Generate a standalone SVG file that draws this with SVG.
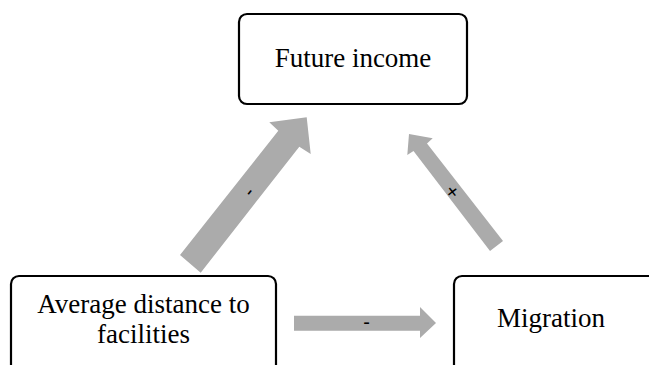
<svg xmlns="http://www.w3.org/2000/svg" width="649" height="365" viewBox="0 0 649 365">
<style>
.box{fill:#ffffff;stroke:#000000;stroke-width:2.2}
.lbl{font-family:"Liberation Serif","Times New Roman",serif;font-size:27px;fill:#000000;text-anchor:middle}
.arrow{fill:#ababab;stroke:none}
.sign{font-family:"Liberation Sans",Arial,sans-serif;font-size:20px;fill:#000000;text-anchor:middle}
</style>
<rect width="649" height="365" fill="#ffffff"/>
<g id="connectors">
<g id="edge-distance-income">
<polygon class="arrow" points="180,255 278.3,130.7 269.3,122.3 306.7,117.3 310.7,154 299.3,146.7 200.7,272.7"/>
<text class="sign" transform="translate(249,192) rotate(-51.6)" y="6">-</text>
</g>
<g id="edge-migration-income">
<polygon class="arrow" points="503,241 427,143.5 432.7,138.3 409,134 407.3,155 413.5,151 490,251"/>
<text class="sign" transform="translate(452.7,191.7) rotate(52.5)" y="7">+</text>
</g>
<g id="edge-distance-migration">
<polygon class="arrow" points="294,315.7 420,315.7 420,307 436,323 420,338 420,330.7 294,330.7"/>
<text class="sign" x="366.7" y="329">-</text>
</g>
</g>
<g id="node-income">
<rect class="box" x="239" y="14" width="228" height="90" rx="8"/>
<text class="lbl" x="353" y="67">Future income</text>
</g>
<g id="node-distance">
<rect class="box" x="11" y="276" width="265" height="110" rx="8"/>
<text class="lbl" x="143.5" y="313">Average distance to</text>
<text class="lbl" x="143.5" y="343">facilities</text>
</g>
<g id="node-migration">
<rect class="box" x="454" y="276" width="220" height="110" rx="8"/>
<text class="lbl" x="551" y="327">Migration</text>
</g>
</svg>
